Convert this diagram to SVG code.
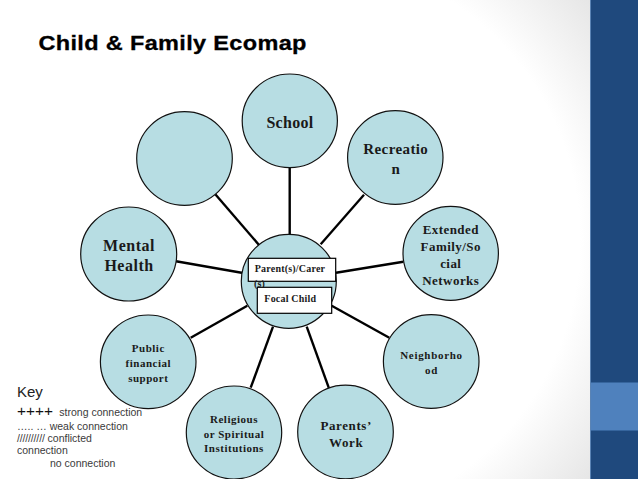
<svg xmlns="http://www.w3.org/2000/svg" width="638" height="479" viewBox="0 0 638 479">
<style>
.n{fill:#b7dde3;stroke:#111;stroke-width:1.2}
.b{fill:#fff;stroke:#000;stroke-width:1.2}
.c{stroke:#000;stroke-width:2.4;fill:none}
text{font-family:"Liberation Serif",serif;font-weight:bold;fill:#1a1a1a;text-anchor:middle}
.t10{font-size:10px;letter-spacing:.2px}
.t11{font-size:11px;letter-spacing:.5px}
.t13{font-size:13px;letter-spacing:.45px}
.t15{font-size:15px;letter-spacing:.4px}
.t16{font-size:16px;letter-spacing:.3px}
.k{font-family:"Liberation Sans",sans-serif;font-weight:normal;text-anchor:start;font-size:10.5px;fill:#3a3a3a}
</style>
<defs><radialGradient id="g" gradientUnits="userSpaceOnUse" cx="295" cy="240" r="380"><stop offset=".75" stop-color="#fff"/><stop offset="1" stop-color="#e6e6e6"/></radialGradient></defs>
<rect width="638" height="479" fill="#fff"/>
<rect x="400" width="190" height="479" fill="url(#g)"/>
<rect x="590" width="48" height="479" fill="#1f497d"/>
<rect x="590" y="382.5" width="48" height="48" fill="#4f81bd"/>
<line x1="590.5" y1="0" x2="590.5" y2="479" stroke="#5b84b5" stroke-width="1"/>
<text transform="translate(38.5,50) scale(1.12,1)" style="font-family:'Liberation Sans',sans-serif;font-size:21px;letter-spacing:.3px;fill:#000;stroke:#000;stroke-width:.3;text-anchor:start">Child &amp; Family Ecomap</text>
<g id="connectors" class="c">
<line x1="289.7" y1="167" x2="289.7" y2="235"/>
<line x1="215.3" y1="194.3" x2="259" y2="245"/>
<line x1="364" y1="194.7" x2="320.7" y2="244.3"/>
<line x1="176" y1="261.3" x2="243" y2="273"/>
<line x1="403.3" y1="261.7" x2="336" y2="272.7"/>
<line x1="190.7" y1="337.7" x2="247.3" y2="305.7"/>
<line x1="389.3" y1="337.7" x2="331.7" y2="305.7"/>
<line x1="250.7" y1="387.7" x2="273" y2="326.7"/>
<line x1="329" y1="388.3" x2="306.7" y2="326.7"/>
</g>
<g id="center"><ellipse class="n" cx="288.8" cy="281.3" rx="47.5" ry="47"/>
<rect class="b" x="248.3" y="258.3" width="87.4" height="23"/>
<text class="t10" x="290" y="272">Parent(s)/Carer</text>
<text class="t10" x="259.5" y="287">(s)</text>
<rect class="b" x="257.3" y="287.3" width="74.4" height="26"/>
<text class="t10" x="290.3" y="302">Focal Child</text></g>
<g id="school"><ellipse class="n" cx="289.8" cy="120.8" rx="47.6" ry="46.8"/><text class="t16" x="290" y="128.3">School</text></g>
<g id="blank"><ellipse class="n" cx="184.5" cy="158.5" rx="47.8" ry="46.8"/></g>
<g id="recreation"><ellipse class="n" cx="395.3" cy="157.5" rx="47.7" ry="46.8"/><text class="t15" x="395.8" y="154">Recreatio</text><text class="t15" x="395.8" y="174">n</text></g>
<g id="mental"><ellipse class="n" cx="128.7" cy="254" rx="48" ry="47"/><text style="font-size:16px;letter-spacing:.5px" x="129" y="250.7">Mental</text><text style="font-size:16px;letter-spacing:.5px" x="129" y="271">Health</text></g>
<g id="extended"><ellipse class="n" cx="450.7" cy="253.3" rx="47.7" ry="47"/><text class="t13" x="450.8" y="234">Extended</text><text class="t13" x="450.8" y="250.7">Family/So</text><text class="t13" x="450.8" y="268">cial</text><text class="t13" x="450.8" y="284.7">Networks</text></g>
<g id="public"><ellipse class="n" cx="148.2" cy="361.8" rx="47.8" ry="46.8"/><text class="t11" x="148.3" y="351.7">Public</text><text class="t11" x="148.3" y="366.7">financial</text><text class="t11" x="148.3" y="382">support</text></g>
<g id="neighborhood"><ellipse class="n" cx="431.2" cy="361.5" rx="47.8" ry="46.8"/><text class="t11" style="letter-spacing:.7px" x="431.5" y="358.7">Neighborho</text><text class="t11" style="letter-spacing:.7px" x="431.5" y="373.7">od</text></g>
<g id="religious"><ellipse class="n" cx="234" cy="432.5" rx="47.7" ry="46.5"/><text class="t11" x="234" y="422.7">Religious</text><text class="t11" x="234" y="438">or Spiritual</text><text class="t11" x="234" y="452">Institutions</text></g>
<g id="work"><ellipse class="n" cx="345.5" cy="432" rx="47.8" ry="46.8"/><text class="t13" style="letter-spacing:.6px" x="346.2" y="430">Parents’</text><text class="t13" style="letter-spacing:.6px" x="346.2" y="446.7">Work</text></g>
<g id="key">
<text class="k" x="17" y="397" style="font-size:15px;fill:#222">Key</text>
<text class="k" x="17" y="416" style="font-size:15.4px;fill:#111">++++</text>
<text class="k" x="59.3" y="416">strong connection</text>
<text class="k" x="17" y="430">….. … weak connection</text>
<text class="k" x="17" y="441.7"><tspan style="letter-spacing:-.15px">//////////</tspan> conflicted</text>
<text class="k" x="17" y="454.3">connection</text>
<text class="k" x="50" y="467.3">no connection</text>
</g>
</svg>
